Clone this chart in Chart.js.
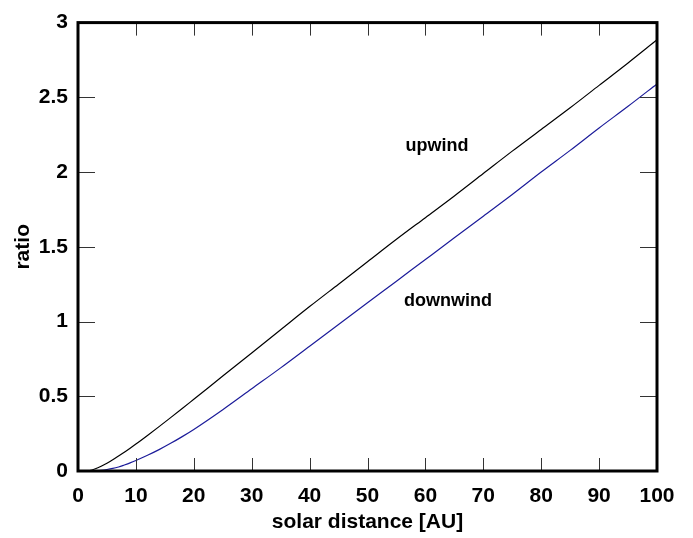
<!DOCTYPE html>
<html>
<head>
<meta charset="utf-8">
<script src="https://cdn.jsdelivr.net/npm/chart.js@4.4.1/dist/chart.umd.min.js"></script>
<style>
  html, body { margin: 0; padding: 0; background: #fff; }
  #wrap { width: 693px; height: 538px; }
</style>
</head>
<body>
<div id="wrap"><canvas id="ratio-chart"></canvas></div>
<script>
// values
const distance = [0, 1, 2, 3, 4, 5, 6, 7, 8, 9, 10, 12, 14, 16, 18, 20, 25, 30, 35, 40, 45, 50, 55, 60, 65, 70, 75, 80, 85, 90, 95, 100];
const upwind = [0, 0, 0.003, 0.015, 0.032, 0.052, 0.075, 0.1, 0.125, 0.152, 0.18, 0.238, 0.297, 0.357, 0.418, 0.48, 0.635, 0.79, 0.945, 1.10, 1.25, 1.40, 1.55, 1.695, 1.84, 1.99, 2.14, 2.285, 2.43, 2.58, 2.73, 2.885];
const downwind = [0, 0, 0, 0.002, 0.005, 0.01, 0.017, 0.027, 0.04, 0.054, 0.07, 0.105, 0.143, 0.185, 0.23, 0.278, 0.41, 0.55, 0.69, 0.835, 0.98, 1.125, 1.27, 1.415, 1.56, 1.705, 1.85, 2.0, 2.145, 2.295, 2.44, 2.59];
const xTickLabels = ['0', '10', '20', '30', '40', '50', '60', '70', '80', '90', '100'];
const yTickLabels = ['0', '0.5', '1', '1.5', '2', '2.5', '3'];
const seriesNames = ['upwind', 'downwind'];

const FONT = 'Liberation Sans, Arial, Helvetica, sans-serif';

// frame, inward ticks on all four sides, and the curve labels
const framePlugin = {
  id: 'frameAndTicks',
  afterDatasetsDraw(chart) {
    const {ctx, chartArea: a, scales: {x, y}} = chart;
    ctx.save();
    ctx.strokeStyle = '#333';
    ctx.lineWidth = 1;
    ctx.beginPath();
    x.ticks.forEach((t) => {
      const px = Math.round(x.getPixelForValue(t.value)) + 0.5;
      ctx.moveTo(px, a.bottom); ctx.lineTo(px, a.bottom - 13);
      ctx.moveTo(px, a.top); ctx.lineTo(px, a.top + 13);
    });
    y.ticks.forEach((t) => {
      const py = Math.round(y.getPixelForValue(t.value)) + 0.5;
      ctx.moveTo(a.left, py); ctx.lineTo(a.left + 17, py);
      ctx.moveTo(a.right, py); ctx.lineTo(a.right - 17, py);
    });
    ctx.stroke();

    ctx.strokeStyle = '#000';
    ctx.lineWidth = 3;
    ctx.strokeRect(a.left, a.top, a.right - a.left, a.bottom - a.top);

    // curve names
    ctx.fillStyle = '#000';
    ctx.font = 'bold 18px ' + FONT;
    ctx.textAlign = 'center';
    ctx.textBaseline = 'alphabetic';
    ctx.fillText(seriesNames[0], x.getPixelForValue(62), y.getPixelForValue(2.14));
    ctx.fillText(seriesNames[1], x.getPixelForValue(63.9), y.getPixelForValue(1.105));
    ctx.restore();
  }
};

const toPoints = (vals) => distance.map((d, i) => ({x: d, y: vals[i]}));

new Chart(document.getElementById('ratio-chart'), {
  type: 'line',
  data: {
    datasets: [
      {
        label: seriesNames[0],
        data: toPoints(upwind),
        borderColor: '#000',
        borderWidth: 1.2,
        pointRadius: 0,
        cubicInterpolationMode: 'monotone',
      },
      {
        label: seriesNames[1],
        data: toPoints(downwind),
        borderColor: '#1c1c9a',
        borderWidth: 1.2,
        pointRadius: 0,
        cubicInterpolationMode: 'monotone',
      },
    ],
  },
  options: {
    responsive: true,
    maintainAspectRatio: false,
    animation: false,
    layout: {padding: {top: 12, right: 36, left: 0, bottom: 0}},
    plugins: {
      legend: {display: false},
      tooltip: {enabled: false},
    },
    scales: {
      x: {
        type: 'linear',
        min: 0,
        max: 100,
        grid: {display: false, drawTicks: false},
        border: {display: false},
        ticks: {
          stepSize: 10,
          padding: 13,
          color: '#000',
          maxRotation: 0,
          font: {family: FONT, size: 21, weight: 'bold'},
          callback: (v) => xTickLabels[Math.round(v / 10)],
        },
        title: {
          display: true,
          text: 'solar distance [AU]',
          color: '#000',
          font: {family: FONT, size: 21, weight: 'bold'},
          padding: {top: 0, bottom: 3},
        },
        afterFit: (s) => { s.height = 67; },
      },
      y: {
        min: 0,
        max: 3,
        grid: {display: false, drawTicks: false},
        border: {display: false},
        ticks: {
          stepSize: 0.5,
          padding: 10,
          color: '#000',
          font: {family: FONT, size: 21, weight: 'bold'},
          callback: (v) => yTickLabels[Math.round(v * 2)],
        },
        title: {
          display: true,
          text: 'ratio',
          color: '#000',
          font: {family: FONT, size: 21, weight: 'bold'},
          padding: {top: 11, bottom: 0},
        },
        afterFit: (s) => { s.width = 78; },
      },
    },
  },
  plugins: [framePlugin],
});
</script>
</body>
</html>
